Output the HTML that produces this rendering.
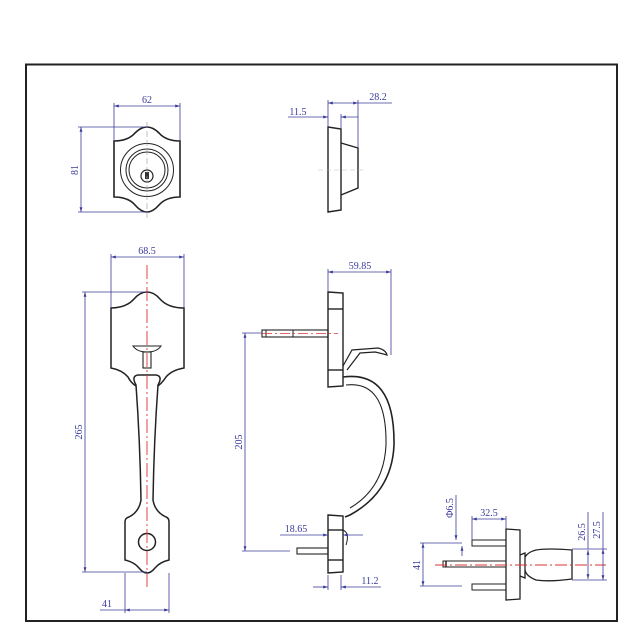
<!DOCTYPE html>
<html><head><meta charset="utf-8"><style>
html,body{margin:0;padding:0;background:#fff;width:640px;height:640px;overflow:hidden}
svg{display:block}
text{font-family:"Liberation Serif",serif;font-size:10px;fill:#3b3b9a}
</style></head><body>
<svg width="640" height="640" viewBox="0 0 640 640" xmlns="http://www.w3.org/2000/svg">
<defs>
<marker id="a" viewBox="0 0 10 10" refX="10" refY="5" markerWidth="6" markerHeight="6" orient="auto-start-reverse"><path d="M0,2 L10,5 L0,8z" fill="#3b3b9a"/></marker>
</defs>
<rect x="26" y="64.5" width="591" height="556.5" fill="none" stroke="#222" stroke-width="2"/>

<!-- Deadbolt front -->
<g fill="none" stroke="#222" stroke-width="1.6">
<path d="M114,141 Q128,141 135,133 Q141,127 147,127 Q153,127 159,133 Q166,141 180,141 L180,197 Q166,197 159,205 Q153,212 147,212 Q141,212 135,205 Q128,197 114,197 Z"/>
<circle cx="147" cy="170" r="26.5" stroke-width="1"/>
<circle cx="147" cy="170" r="21" stroke-width="1"/>
<circle cx="147" cy="170" r="18" stroke-width="1"/>
<circle cx="147" cy="176" r="6" stroke-width="1.2"/>
</g>
<path d="M145,172 h4 v7 h-4z" fill="#333"/>
<line x1="147" y1="122" x2="147" y2="218" stroke="#999" stroke-width="0.6" stroke-dasharray="6,3"/>
<g stroke="#3b3b9a" stroke-width="0.8" fill="none">
<line x1="114" y1="103" x2="114" y2="141"/><line x1="180" y1="103" x2="180" y2="141"/>
<line x1="114" y1="106" x2="180" y2="106" marker-start="url(#a)" marker-end="url(#a)"/>
<line x1="78" y1="127" x2="147" y2="127"/><line x1="78" y1="212" x2="147" y2="212"/>
<line x1="81" y1="127" x2="81" y2="212" marker-start="url(#a)" marker-end="url(#a)"/>
</g>
<text x="147" y="103" text-anchor="middle">62</text>
<text transform="translate(78,170) rotate(-90)" text-anchor="middle">81</text>

<!-- Deadbolt side -->
<g fill="none" stroke="#222" stroke-width="1.4">
<path d="M328,127 L341,129 L341,210 L328,212 Z"/>
<path d="M341,143 L358,148 L358,188 L341,195"/>
</g>
<line x1="318" y1="170" x2="366" y2="170" stroke="#bbb" stroke-width="0.5" stroke-dasharray="5,3"/>
<g stroke="#3b3b9a" stroke-width="0.8" fill="none">
<line x1="328" y1="100" x2="328" y2="127"/><line x1="341" y1="114" x2="341" y2="129"/><line x1="358" y1="100" x2="358" y2="148"/>
<line x1="328" y1="103" x2="358" y2="103" marker-start="url(#a)" marker-end="url(#a)"/>
<line x1="358" y1="103" x2="392" y2="103"/>
<line x1="288" y1="117" x2="328" y2="117" marker-end="url(#a)"/>
<line x1="341" y1="117" x2="358" y2="117" marker-start="url(#a)"/>
</g>
<text x="378" y="100" text-anchor="middle">28.2</text>
<text x="298" y="115" text-anchor="middle">11.5</text>

<!-- Handleset front -->
<g fill="#fff" stroke="#222" stroke-width="1.5">
<path d="M111,308 Q126,308 134,299 Q140,292 147,292 Q154,292 160,299 Q168,308 184,308 L184,368 Q172,370 166,377 Q162,383 158,386 L136,386 Q131,383 128,377 Q122,370 111,368 Z"/>
<path d="M136,385 Q131,376 138,375 L156,375 Q163,376 158,385 Q154,440 153,500 Q155,512 166,517 Q169,518 169,522 L169,560 Q160,562 155,568 Q151,573 147,573 Q143,573 139,568 Q134,562 125,560 L125,522 Q125,518 129,517 Q139,512 141,500 Q140,440 136,385 Z"/>
<circle cx="147" cy="542" r="8.5"/>
<path d="M133,346 L161,346 Q157,352 147,352 Q137,352 133,346 Z" stroke-width="1.1"/>
<rect x="143" y="352" width="8" height="16" stroke-width="1.1"/>
</g>
<line x1="147" y1="265" x2="147" y2="590" stroke="#d33" stroke-width="0.9" stroke-dasharray="14,3,2,3"/>
<g stroke="#3b3b9a" stroke-width="0.8" fill="none">
<line x1="111" y1="254" x2="111" y2="308"/><line x1="184" y1="254" x2="184" y2="308"/>
<line x1="111" y1="257" x2="184" y2="257" marker-start="url(#a)" marker-end="url(#a)"/>
<line x1="82" y1="292" x2="147" y2="292"/><line x1="82" y1="572" x2="147" y2="572"/>
<line x1="85" y1="292" x2="85" y2="572" marker-start="url(#a)" marker-end="url(#a)"/>
<line x1="125" y1="573" x2="125" y2="613"/><line x1="169" y1="573" x2="169" y2="613"/>
<line x1="100" y1="610" x2="125" y2="610"/>
<line x1="125" y1="610" x2="169" y2="610" marker-start="url(#a)" marker-end="url(#a)"/>
</g>
<text x="147" y="254" text-anchor="middle">68.5</text>
<text transform="translate(82,432) rotate(-90)" text-anchor="middle">265</text>
<text x="107" y="607" text-anchor="middle">41</text>

<!-- Handleset side -->
<g fill="none" stroke="#222" stroke-width="1.4">
<path d="M328,292 L343,293 L343,386 L328,387 Z"/>
<line x1="328" y1="309" x2="343" y2="309"/><line x1="328" y1="370" x2="343" y2="370"/>
<path d="M328,515 L343,516 L343,572 L328,573 Z"/>
<line x1="328" y1="530" x2="343" y2="530"/><line x1="328" y1="560" x2="343" y2="560"/>
<rect x="262" y="330" width="66" height="7" stroke-width="1.1"/>
<line x1="266" y1="330" x2="266" y2="337" stroke-width="1"/><line x1="293" y1="330" x2="293" y2="337" stroke-width="1"/>
<path d="M343,366 L352,350 L378,348 Q386,350 387,355 Q380,353 375,352 L360,353 L347,370" stroke-width="1.2"/>
<path d="M343,377 Q395,370 394,445 Q392,492 350,515 L345,517" stroke-width="1.6"/>
<path d="M346,385 Q387,380 386,445 Q384,488 350,508" stroke-width="1.1"/>
<path d="M343,530 Q350,533 346,545" stroke-width="1"/>
<rect x="297" y="548" width="31" height="6" stroke-width="1.1"/>
</g>
<line x1="262" y1="333.5" x2="338" y2="333.5" stroke="#d33" stroke-width="0.8" stroke-dasharray="10,3,2,3"/>
<g stroke="#3b3b9a" stroke-width="0.8" fill="none">
<line x1="328" y1="269" x2="328" y2="292"/><line x1="391" y1="269" x2="391" y2="355"/>
<line x1="328" y1="272" x2="391" y2="272" marker-start="url(#a)" marker-end="url(#a)"/>
<line x1="242" y1="333" x2="262" y2="333"/><line x1="242" y1="551" x2="290" y2="551"/>
<line x1="245" y1="333" x2="245" y2="551" marker-start="url(#a)" marker-end="url(#a)"/>
<line x1="280" y1="535" x2="328" y2="535" marker-end="url(#a)"/>
<line x1="343" y1="535" x2="363" y2="535" marker-start="url(#a)"/>
<line x1="328" y1="575" x2="328" y2="590"/><line x1="341" y1="575" x2="341" y2="590"/>
<line x1="313" y1="587" x2="328" y2="587" marker-end="url(#a)"/>
<line x1="341" y1="587" x2="381" y2="587" marker-start="url(#a)"/>
</g>
<text x="360" y="269" text-anchor="middle">59.85</text>
<text transform="translate(242,442) rotate(-90)" text-anchor="middle">205</text>
<text x="296" y="532" text-anchor="middle">18.65</text>
<text x="370" y="584" text-anchor="middle">11.2</text>

<!-- Knob side -->
<g fill="none" stroke="#222" stroke-width="1.3">
<path d="M506,529 L520,530 L520,599 L506,600 Z"/>
<path d="M520,555 L525,553 L525,578 L520,576"/>
<path d="M525,557 Q528,552 536,550 Q548,548 572,550 L572,579 Q550,582 536,580 Q526,576 525,570"/>
<rect x="472" y="540" width="34" height="6" stroke-width="1"/>
<rect x="472" y="584" width="34" height="6" stroke-width="1"/>
<rect x="443" y="561" width="63" height="6" stroke-width="1"/>
<line x1="446" y1="561" x2="446" y2="567" stroke-width="1.5"/>
</g>
<line x1="435" y1="565" x2="606" y2="565" stroke="#d33" stroke-width="0.9" stroke-dasharray="12,3,2,3"/>
<g stroke="#3b3b9a" stroke-width="0.8" fill="none">
<line x1="420" y1="543" x2="462" y2="543"/><line x1="420" y1="586" x2="462" y2="586"/>
<line x1="423" y1="543" x2="423" y2="586" marker-start="url(#a)" marker-end="url(#a)"/>
<line x1="456" y1="495" x2="456" y2="540" marker-end="url(#a)"/>
<line x1="462" y1="546" x2="462" y2="556" marker-start="url(#a)"/>
<line x1="472" y1="516" x2="472" y2="540"/><line x1="506" y1="516" x2="506" y2="529"/>
<line x1="472" y1="519" x2="506" y2="519" marker-start="url(#a)" marker-end="url(#a)"/>
<line x1="572" y1="549" x2="607" y2="549"/><line x1="572" y1="580" x2="607" y2="580"/>
<line x1="588" y1="512" x2="588" y2="549"/>
<line x1="588" y1="550" x2="588" y2="579" marker-start="url(#a)" marker-end="url(#a)"/>
<line x1="603" y1="512" x2="603" y2="549"/>
<line x1="603" y1="549" x2="603" y2="580" marker-start="url(#a)" marker-end="url(#a)"/>
</g>
<text transform="translate(420,565) rotate(-90)" text-anchor="middle">41</text>
<text transform="translate(453,508) rotate(-90)" text-anchor="middle">Φ6.5</text>
<text x="489" y="516" text-anchor="middle">32.5</text>
<text transform="translate(585,532) rotate(-90)" text-anchor="middle">26.5</text>
<text transform="translate(600,530) rotate(-90)" text-anchor="middle">27.5</text>
</svg>
</body></html>
